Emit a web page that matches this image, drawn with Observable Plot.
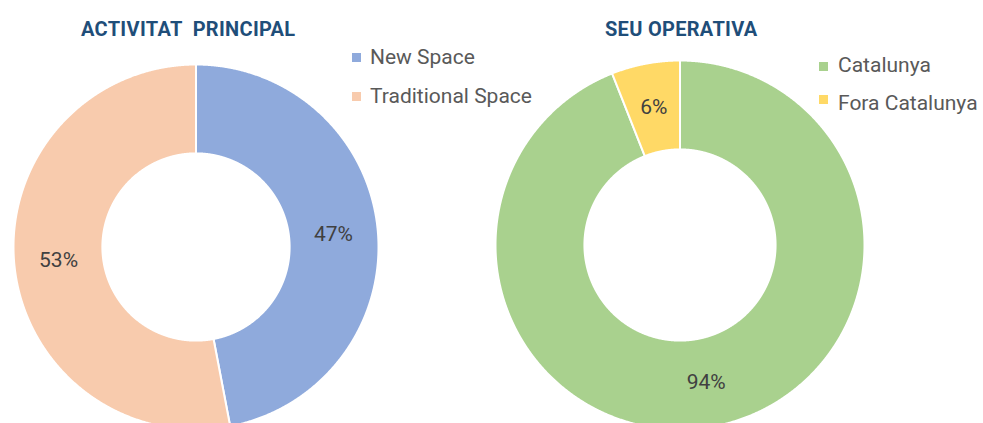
<!DOCTYPE html>
<html>
<head>
<meta charset="utf-8">
<script src="https://cdn.jsdelivr.net/npm/d3@7"></script>
<script src="https://cdn.jsdelivr.net/npm/@observablehq/plot@0.6"></script>
<style>
  html, body { margin: 0; padding: 0; background: #ffffff; }
  #wrap { position: relative; width: 983px; height: 423px; overflow: hidden; font-family: Roboto, "Open Sans", sans-serif; }
  #row { position: absolute; left: 0; top: 0; display: flex; flex-direction: row; }
  .title { position: absolute; font-weight: bold; font-size: 20px; letter-spacing: 0.3px; color: #1f4e79; white-space: pre; line-height: 20px; }
  .leg { position: absolute; font-size: 21px; color: #595959; line-height: 21px; white-space: pre; }
  .sw { position: absolute; width: 9px; height: 9px; }
</style>
</head>
<body>
<div id="wrap">
  <div id="row"></div>
</div>
<script>
// ---- data ----
const activitatTitle = "ACTIVITAT  PRINCIPAL";
const activitatCats = ["New Space", "Traditional Space"];
const activitatValues = [47, 53];

const seuTitle = "SEU OPERATIVA";
const seuCats = ["Catalunya", "Fora Catalunya"];
const seuValues = [94, 6];

// ---- helpers ----
function ring(cats, values, inner) {
  const arcs = d3.pie().sort(null).value(d => d.v)(cats.map((c, i) => ({c, v: values[i]})));
  const pts = [];
  const labels = [];
  for (const a of arcs) {
    const n = Math.max(2, Math.ceil((a.endAngle - a.startAngle) / 0.004));
    for (let i = 0; i <= n; i++) {
      const t = a.startAngle + (a.endAngle - a.startAngle) * i / n;
      pts.push({c: a.data.c, x: Math.sin(t), y: Math.cos(t)});
    }
    for (let i = n; i >= 0; i--) {
      const t = a.startAngle + (a.endAngle - a.startAngle) * i / n;
      pts.push({c: a.data.c, x: inner * Math.sin(t), y: inner * Math.cos(t)});
    }
    const m = (a.startAngle + a.endAngle) / 2, r = (1 + inner) / 2;
    labels.push({c: a.data.c, x: r * Math.sin(m), y: r * Math.cos(m), label: a.data.v + "%"});
  }
  return {pts, labels};
}

function donut({cats, values, colors, width, cx, cy, R, inner}) {
  const {pts, labels} = ring(cats, values, inner);
  return Plot.plot({
    width, height: 423,
    margin: 0,
    style: {background: "transparent", overflow: "hidden"},
    x: {domain: [-1, 1], range: [cx - R, cx + R], axis: null},
    y: {domain: [-1, 1], range: [cy + R, cy - R], axis: null},
    color: {domain: cats, range: colors},
    marks: [
      Plot.line(pts, {x: "x", y: "y", z: "c", fill: "c", stroke: "white", strokeWidth: 2, curve: "linear-closed"}),
      Plot.text(labels, {x: "x", y: "y", text: "label", fill: "#404040", fontSize: 21, fontFamily: "Roboto"})
    ]
  });
}

const row = document.getElementById("row");
row.appendChild(donut({cats: activitatCats, values: activitatValues, colors: ["#8faadc", "#f8cbad"],
  width: 440, cx: 195.5, cy: 246.5, R: 182.5, inner: 0.513}));
row.appendChild(donut({cats: seuCats, values: seuValues, colors: ["#a9d18e", "#ffd966"],
  width: 543, cx: 679.5 - 440, cy: 244.5, R: 184.5, inner: 0.518}));

// titles and legends
const wrap = document.getElementById("wrap");
function add(cls, text, left, top, color) {
  const d = document.createElement("div");
  d.className = cls;
  d.style.left = left + "px";
  d.style.top = top + "px";
  if (text != null) d.textContent = text;
  if (color) d.style.background = color;
  wrap.appendChild(d);
}
add("title", activitatTitle, 81, 19);
add("title", seuTitle, 605, 18.5);

add("sw", null, 352, 53, "#8faadc");
add("leg", activitatCats[0], 370, 46.5);
add("sw", null, 352, 92, "#f8cbad");
add("leg", activitatCats[1], 370, 85.5);

add("sw", null, 819, 62, "#a9d18e");
add("leg", seuCats[0], 838, 54.5);
add("sw", null, 819, 95, "#ffd966");
add("leg", seuCats[1], 838, 92.5);
</script>
</body>
</html>
